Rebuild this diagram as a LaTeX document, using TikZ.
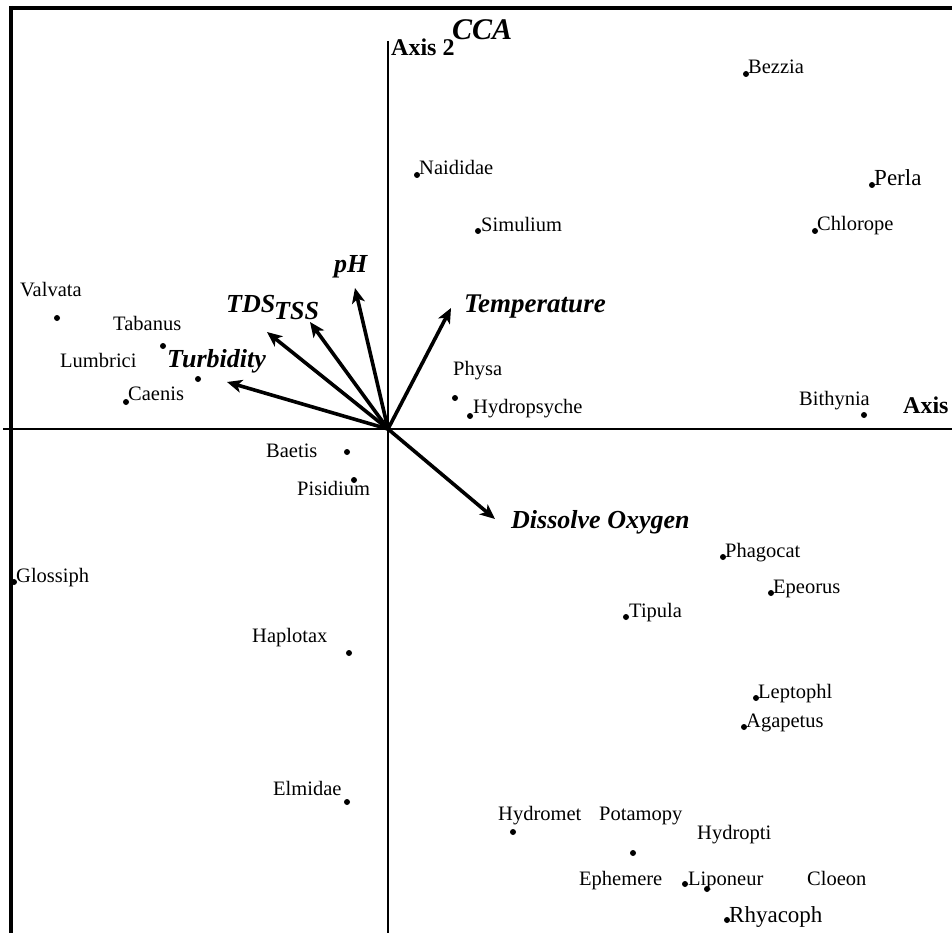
\documentclass[tikz,border=0pt]{standalone}
\usepackage{fontspec}
\setmainfont{Liberation Serif}
\usetikzlibrary{arrows.meta}
\tikzset{
  frameline/.style={line width=4pt},
  axisline/.style={line width=2.5pt},
  vec/.style={line width=3.6pt,-{Stealth[length=15pt,width=13pt,inset=4pt]}},
  dot/.style={circle,fill=black,inner sep=0pt,minimum size=6pt},
  lbl/.style={inner sep=0pt,font=\fontsize{20.5}{24}\selectfont},
  biglbl/.style={inner sep=0pt,font=\fontsize{23}{27}\selectfont},
  envlbl/.style={inner sep=0pt,font=\fontsize{26}{30}\selectfont\bfseries\itshape},
  axlbl/.style={inner sep=0pt,font=\fontsize{24}{28}\selectfont\bfseries},
}
\begin{document}
\begin{tikzpicture}[x=1pt,y=-1pt]
\useasboundingbox (0,0) rectangle (952,933);
% frame
\coordinate (ftr) at (952,8);
\coordinate (ftl) at (9,8);
\coordinate (fbl) at (11,933);
\draw[frameline] (ftr) -- (ftl);
\draw[frameline] (11,6) -- (fbl);
% axes
\coordinate (O) at (388,429);
\coordinate (ax2top) at (388,41);
\coordinate (ax2bot) at (388,933);
\coordinate (ax1l) at (3,429);
\coordinate (ax1r) at (952,429);
\draw[axisline] (ax2top) -- (ax2bot);
\draw[axisline] (ax1l) -- (ax1r);
\node[inner sep=0pt,anchor=base west,font=\fontsize{30}{34}\selectfont\bfseries\itshape] (cca) at (452,40) {CCA};
\node[axlbl,anchor=base west] (ax2lbl) at (391,56) {Axis 2};
\node[axlbl,anchor=base west] (ax1lbl) at (903,413) {Axis};
% environmental vectors
\coordinate (tph) at (355,288);
\coordinate (ttss) at (310,322);
\coordinate (ttds) at (267,332);
\coordinate (ttur) at (227,382);
\coordinate (ttem) at (451,308);
\coordinate (tdo) at (495,519);
\draw[vec] (O) -- (tph);
\draw[vec] (O) -- (ttss);
\draw[vec] (O) -- (ttds);
\draw[vec] (O) -- (ttur);
\draw[vec] (O) -- (ttem);
\draw[vec] (O) -- (tdo);
\node[envlbl,anchor=base west] (lph) at (334,272) {pH};
\node[envlbl,anchor=base west] (ltds) at (226,312) {TDS};
\node[envlbl,anchor=base west] (ltss) at (274,319) {TSS};
\node[envlbl,anchor=base west] (ltur) at (167,367) {Turbidity};
\node[envlbl,anchor=base west,font=\fontsize{27}{30}\selectfont\bfseries\itshape] (ltem) at (464,312) {Temperature};
\node[envlbl,anchor=base west] (ldo) at (511,528) {Dissolve Oxygen};
% species points
\node[dot] (d1) at (746,74) {};
\node[lbl,anchor=base west] (s1) at (748,74) {Bezzia};
\node[dot] (d2) at (417,175) {};
\node[lbl,anchor=base west] (s2) at (419,175) {Naididae};
\node[dot] (d3) at (872,185) {};
\node[biglbl,anchor=base west] (s3) at (874,186) {Perla};
\node[dot] (d4) at (478,231) {};
\node[lbl,anchor=base west] (s4) at (481,232) {Simulium};
\node[dot] (d5) at (815,231) {};
\node[lbl,anchor=base west] (s5) at (817,230) {Chlorope};
\node[dot] (d6) at (57,318) {};
\node[lbl,anchor=base west] (s6) at (20,296) {Valvata};
\node[dot] (d7) at (163,346) {};
\node[lbl,anchor=base west] (s7) at (113,330) {Tabanus};
\node[dot] (d8) at (198,379) {};
\node[lbl,anchor=base west] (s8) at (60,367) {Lumbrici};
\node[dot] (d9) at (126,402) {};
\node[lbl,anchor=base west] (s9) at (128,400) {Caenis};
\node[dot] (d10) at (455,398) {};
\node[lbl,anchor=base west] (s10) at (453,375) {Physa};
\node[dot] (d11) at (470,416) {};
\node[lbl,anchor=base west] (s11) at (473,413) {Hydropsyche};
\node[dot] (d12) at (864,415) {};
\node[lbl,anchor=base west] (s12) at (799,405) {Bithynia};
\node[dot] (d13) at (347,452) {};
\node[lbl,anchor=base west] (s13) at (266,457) {Baetis};
\node[dot] (d14) at (354,480) {};
\node[lbl,anchor=base west] (s14) at (297,495) {Pisidium};
\node[dot] (d15) at (14,582) {};
\node[lbl,anchor=base west] (s15) at (16,582) {Glossiph};
\node[dot] (d16) at (723,557) {};
\node[lbl,anchor=base west] (s16) at (725,557) {Phagocat};
\node[dot] (d17) at (771,593) {};
\node[lbl,anchor=base west] (s17) at (773,593) {Epeorus};
\node[dot] (d18) at (626,617) {};
\node[lbl,anchor=base west] (s18) at (629,617) {Tipula};
\node[dot] (d19) at (349,653) {};
\node[lbl,anchor=base west] (s19) at (252,642) {Haplotax};
\node[dot] (d20) at (756,698) {};
\node[lbl,anchor=base west] (s20) at (758,698) {Leptophl};
\node[dot] (d21) at (744,727) {};
\node[lbl,anchor=base west] (s21) at (746,727) {Agapetus};
\node[dot] (d22) at (347,802) {};
\node[lbl,anchor=base west] (s22) at (273,795) {Elmidae};
\node[dot] (d23) at (513,832) {};
\node[lbl,anchor=base west] (s23) at (498,820) {Hydromet};
\node[dot] (d24) at (633,853) {};
\node[lbl,anchor=base west] (s24) at (599,820) {Potamopy};
\node[lbl,anchor=base west] (s25) at (697,839) {Hydropti};
\node[lbl,anchor=base west] (s26) at (579,885) {Ephemere};
\node[dot] (d27) at (685,884) {};
\node[dot] (d28) at (707,889) {};
\node[lbl,anchor=base west] (s27) at (688,885) {Liponeur};
\node[lbl,anchor=base west] (s29) at (807,885) {Cloeon};
\node[dot] (d30) at (727,920) {};
\node[biglbl,anchor=base west] (s30) at (729,922) {Rhyacoph};
\end{tikzpicture}
\end{document}
